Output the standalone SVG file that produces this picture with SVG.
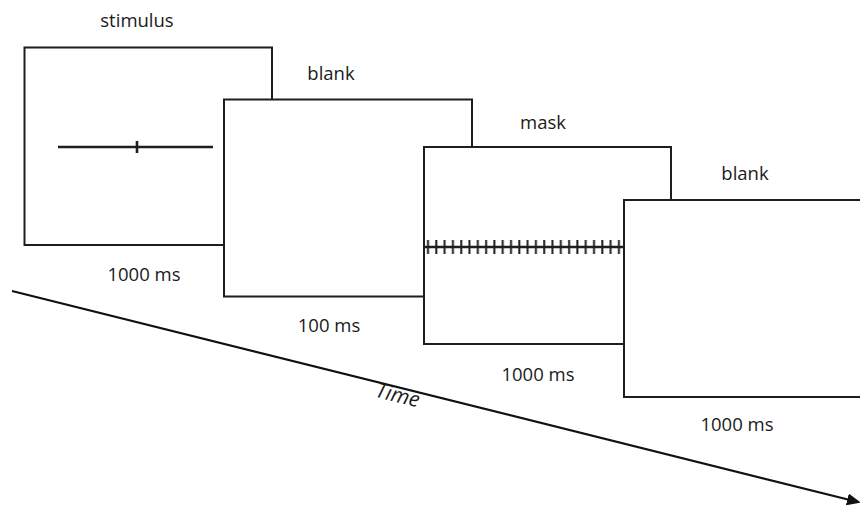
<svg xmlns="http://www.w3.org/2000/svg" width="860" height="508" viewBox="0 0 860 508">
  <style>
    .frame { fill: #ffffff; stroke: #1e1e1e; stroke-width: 2; }
    .mark { stroke: #1e1e1e; stroke-width: 2.6; fill: none; }
    .label { font-family: "Open Sans", "Liberation Sans", sans-serif; font-size: 18.5px; fill: #1a1a1a; }
    .axis-label { font-size: 21px; font-style: italic; }
  </style>
  <defs>
    <marker id="arrowhead" markerWidth="14" markerHeight="12" refX="11" refY="6" orient="auto" markerUnits="userSpaceOnUse">
      <path d="M0,0 L14,6 L0,12 Z" fill="#111111"/>
    </marker>
    <!-- repeating hatch for the mask stimulus -->
    <pattern id="hatch" x="424" y="0" width="8.3" height="508" patternUnits="userSpaceOnUse">
      <line x1="4" y1="240" x2="4" y2="254" stroke="#1e1e1e" stroke-width="2"/>
    </pattern>
  </defs>

  <!-- time axis -->
  <g id="connectors">
    <line x1="12" y1="291" x2="858" y2="502" stroke="#111111" stroke-width="2.2" marker-end="url(#arrowhead)"/>
    <text class="label axis-label" transform="translate(396 402) rotate(14)" text-anchor="middle">Time</text>
  </g>

  <g id="stimulus">
    <rect class="frame" x="24.5" y="47.5" width="247.5" height="197.5"/>
    <line class="mark" x1="58" y1="147" x2="213" y2="147"/>
    <line class="mark" x1="137" y1="141" x2="137" y2="153"/>
    <text class="label" x="137" y="27" text-anchor="middle">stimulus</text>
    <text class="label" x="144" y="281" text-anchor="middle">1000 ms</text>
  </g>

  <g id="blank1">
    <rect class="frame" x="224" y="99.5" width="248" height="197"/>
    <text class="label" x="331" y="80" text-anchor="middle">blank</text>
    <text class="label" x="329" y="332" text-anchor="middle">100 ms</text>
  </g>

  <g id="mask">
    <rect class="frame" x="424" y="147" width="247" height="197"/>
    <rect x="424" y="239" width="199" height="16" fill="url(#hatch)"/>
    <line class="mark" x1="424" y1="247" x2="623" y2="247"/>
    <text class="label" x="543" y="129" text-anchor="middle">mask</text>
    <text class="label" x="538" y="381" text-anchor="middle">1000 ms</text>
  </g>

  <g id="blank2">
    <rect class="frame" x="624" y="200" width="248" height="197"/>
    <text class="label" x="745" y="180" text-anchor="middle">blank</text>
    <text class="label" x="737" y="431" text-anchor="middle">1000 ms</text>
  </g>
</svg>
